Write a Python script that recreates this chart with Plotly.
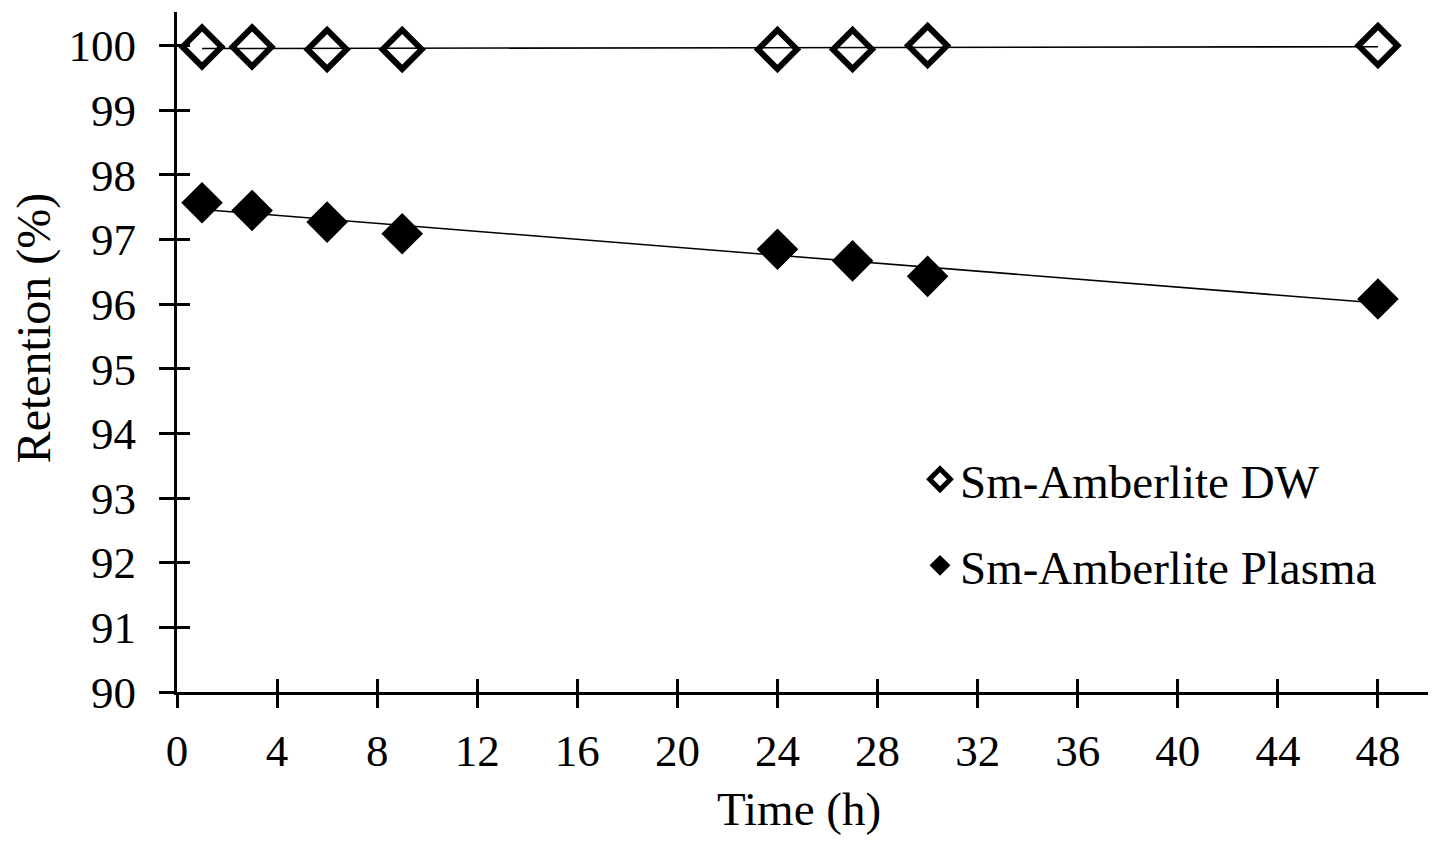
import numpy as np
import plotly.graph_objects as go

time_h = [1, 3, 6, 9, 24, 27, 30, 48]
dw_retention = [99.98, 99.98, 99.94, 99.94, 99.94, 99.94, 100.0, 100.0]
plasma_retention = [97.57, 97.45, 97.27, 97.09, 96.85, 96.67, 96.43, 96.08]
series_names = ["Sm-Amberlite DW", "Sm-Amberlite Plasma"]
x_ticks = list(range(0, 49, 4))
y_ticks = list(range(90, 101, 1))
x_title = "Time (h)"
y_title = "Retention (%)"

FONT = "Liberation Serif"
X_RANGE = [0, 50]
Y_RANGE = [90, 100.52]

fig = go.Figure()

# linear trend lines computed from the data
for ys in (dw_retention, plasma_retention):
    coef = np.polyfit(time_h, ys, 1)
    xs = [min(time_h), max(time_h)]
    fig.add_trace(go.Scatter(x=xs, y=list(np.polyval(coef, xs)), mode="lines",
                             line=dict(color="black", width=1.6),
                             showlegend=False, hoverinfo="skip"))

fig.add_trace(go.Scatter(x=time_h, y=dw_retention, mode="markers", name=series_names[0],
                         legendgroup="a",
                         marker=dict(symbol="diamond-open", size=30, color="black",
                                     line=dict(width=6, color="black"))))
fig.add_trace(go.Scatter(x=time_h, y=plasma_retention, mode="markers", name=series_names[1],
                         legendgroup="b",
                         marker=dict(symbol="diamond", size=32, color="black",
                                     line=dict(width=0))))

# dummy trace to activate overlay axes (inner halves of crossing ticks)
fig.add_trace(go.Scatter(x=[None], y=[None], xaxis="x2", yaxis="y2",
                         showlegend=False, hoverinfo="skip"))

tickfont = dict(family=FONT, size=45, color="black")

fig.update_layout(
    width=1424, height=827,
    margin=dict(l=169, r=4, t=4, b=143),
    plot_bgcolor="white", paper_bgcolor="white",
    font=dict(family=FONT, color="black"),
    xaxis=dict(range=X_RANGE, tickvals=x_ticks, ticks="outside", ticklen=13, tickwidth=2.5,
               tickcolor="black", showline=True, linecolor="black", linewidth=3,
               showgrid=False, zeroline=False, tickfont=tickfont, ticklabelstandoff=4,
               automargin=False),
    yaxis=dict(range=Y_RANGE, tickvals=y_ticks, ticks="outside", ticklen=15, tickwidth=2.5,
               tickcolor="black", showline=True, linecolor="black", linewidth=3,
               showgrid=False, zeroline=False, tickfont=tickfont, ticklabelstandoff=14,
               automargin=False),
    xaxis2=dict(range=X_RANGE, tickvals=x_ticks, ticks="inside", ticklen=13, tickwidth=2.5,
                tickcolor="black", overlaying="x", showticklabels=False, showline=False,
                showgrid=False, zeroline=False),
    yaxis2=dict(range=Y_RANGE, tickvals=y_ticks, ticks="inside", ticklen=13, tickwidth=2.5,
                tickcolor="black", overlaying="y", showticklabels=False, showline=False,
                showgrid=False, zeroline=False),
    legend=dict(x=(920 - 177) / 1251, y=0.36 + 5 / 680, xanchor="left", yanchor="top",
                font=dict(family=FONT, size=47, color="black"),
                traceorder="grouped", tracegroupgap=22, bgcolor="rgba(0,0,0,0)"),
    annotations=[
        dict(text=y_title, textangle=-90, xref="paper", yref="paper",
             x=-0.1140, y=(692 - 328) / 680, xanchor="center", yanchor="middle",
             showarrow=False, font=dict(family=FONT, size=48, color="black")),
        dict(text=x_title, xref="paper", yref="paper",
             x=0.497, y=-0.1715, xanchor="center", yanchor="middle",
             showarrow=False, font=dict(family=FONT, size=47, color="black")),
    ],
)

fig.write_html("out.html")
